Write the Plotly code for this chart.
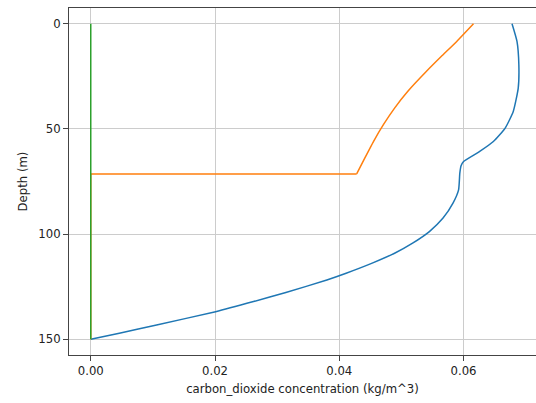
import plotly.graph_objects as go

# Blue profile
blue_depth = [0, 8.4, 19.5, 30.6, 41.7, 49.6, 56, 60.7, 65.5, 67.5, 71, 79, 85.3, 92.4,
              98.8, 104.3, 109.1, 113.8, 118.6, 121.8, 127.8, 132.1, 136.9, 143.2, 147.2, 150]
blue_conc = [0.0678, 0.0686, 0.0689, 0.0688, 0.0680, 0.0667, 0.0648, 0.0626, 0.0600, 0.0596,
             0.0594, 0.0592, 0.0583, 0.0567, 0.0545, 0.0518, 0.0489, 0.0453, 0.0411, 0.0380,
             0.0314, 0.0262, 0.0201, 0.0106, 0.0046, 0.0]

# Orange profile (curved upper part, then flat at zero)
orange_depth = [0, 8.4, 15.6, 22.7, 32.2, 40.1, 48, 56, 63.9, 71.4, 71.4, 150]
orange_conc = [0.0616, 0.0589, 0.0564, 0.0540, 0.0510, 0.0489, 0.0471, 0.0455, 0.0441,
               0.0428, 0.0, 0.0]
orange_kink = 9  # index where the flat part begins

# Green profile
green_depth = [0, 150]
green_conc = [0.0, 0.0]

x_ticks = [0.00, 0.02, 0.04, 0.06]
x_tick_labels = ["0.00", "0.02", "0.04", "0.06"]
y_ticks = [0, 50, 100, 150]
y_tick_labels = ["0", "50", "100", "150"]

fig = go.Figure()
fig.add_trace(go.Scatter(x=blue_conc, y=blue_depth, mode="lines",
                         line=dict(color="#1f77b4", width=1.5, shape="spline",
                                   smoothing=0.5)))
fig.add_trace(go.Scatter(x=orange_conc[:orange_kink + 1], y=orange_depth[:orange_kink + 1],
                         mode="lines",
                         line=dict(color="#ff7f0e", width=1.5, shape="spline",
                                   smoothing=0.5)))
fig.add_trace(go.Scatter(x=orange_conc[orange_kink:], y=orange_depth[orange_kink:],
                         mode="lines", line=dict(color="#ff7f0e", width=1.5)))
fig.add_trace(go.Scatter(x=green_conc, y=green_depth, mode="lines",
                         line=dict(color="#2ca02c", width=1.5)))

font_family = "DejaVu Sans"
fig.update_layout(
    width=536, height=403,
    margin=dict(l=69, r=0, t=8, b=48),
    paper_bgcolor="white", plot_bgcolor="white",
    showlegend=False,
    font=dict(family=font_family, size=11.7, color="#222222"),
)
fig.update_xaxes(
    range=[-0.0035, 0.07166],
    automargin=False,
    tickvals=x_ticks, ticktext=x_tick_labels,
    showgrid=True, gridcolor="#cccccc", gridwidth=1,
    zeroline=False,
    showline=True, linecolor="#444444", linewidth=1, mirror=True,
    ticks="outside", ticklen=5, tickcolor="#444444",
    title=dict(text="carbon_dioxide concentration (kg/m^3)", standoff=7,
               font=dict(size=11.7)),
)
fig.update_yaxes(
    range=[157.5, -7.5],
    automargin=False,
    tickvals=y_ticks, ticktext=y_tick_labels,
    showgrid=True, gridcolor="#cccccc", gridwidth=1,
    zeroline=False,
    showline=True, linecolor="#444444", linewidth=1,
    ticks="outside", ticklen=5, tickcolor="#444444",
    title=dict(text="Depth (m)", standoff=8, font=dict(size=11.7)),
)

fig.write_html("out.html",
               config={"displayModeBar": False, "staticPlot": True},
               post_script="document.body.style.margin='0';document.body.style.overflow='hidden';")
